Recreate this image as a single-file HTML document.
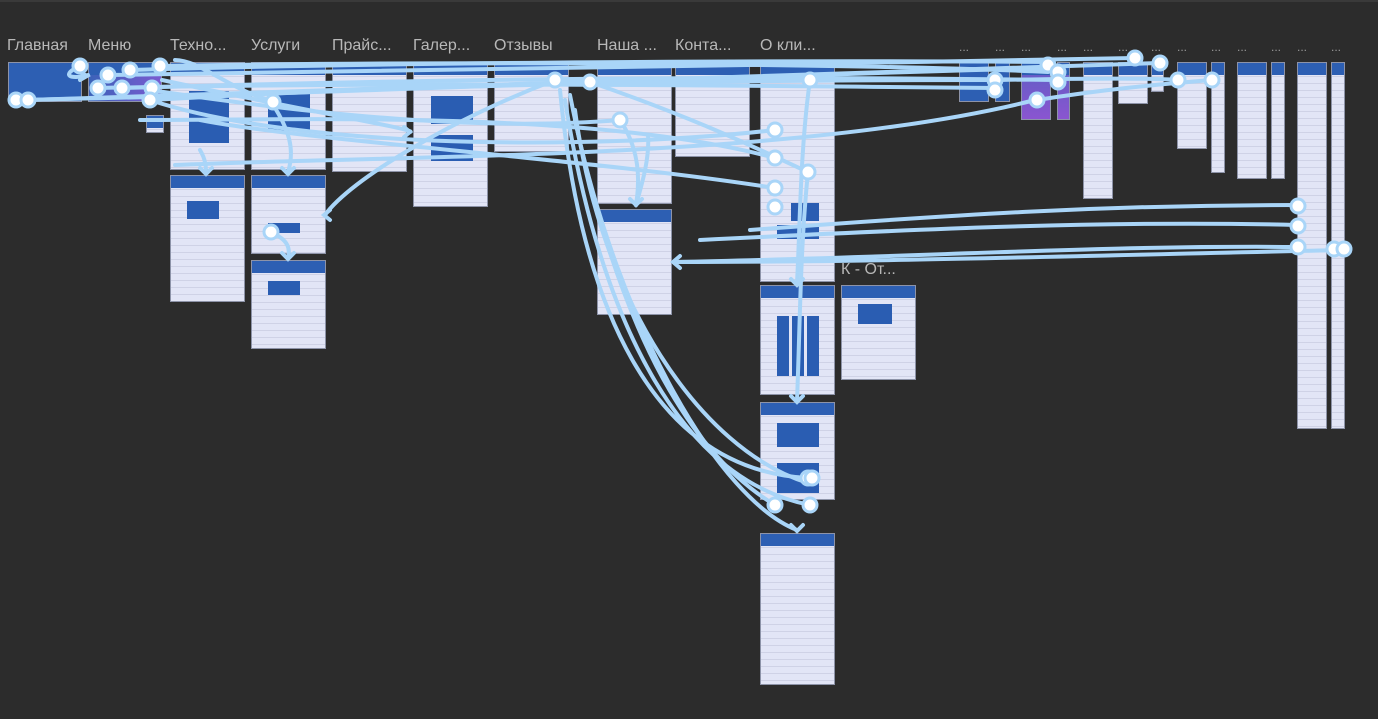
<!DOCTYPE html>
<html><head><meta charset="utf-8"><style>
html,body{margin:0;padding:0;background:#2c2c2c;}
body{width:1378px;height:719px;overflow:hidden;position:relative;font-family:"Liberation Sans","Noto Sans CJK SC",sans-serif;}
.top{position:absolute;left:0;top:0;width:1378px;height:2px;background:#3a3a3a}
.l{position:absolute;top:37px;font-size:16px;color:#b8b8b8;white-space:nowrap}
.d{font-size:12px;color:#999}
.f{position:absolute;background:#e2e5f6 repeating-linear-gradient(180deg,transparent 0 6px,rgba(120,125,160,.18) 6px 7px);border:1px solid #8d93a8;box-sizing:border-box;overflow:hidden}
.f:before{content:"";position:absolute;left:0;top:0;right:0;height:12px;background:#2d5fb3}
.g{position:absolute;background:#2a5db2}
</style></head><body>
<div class="top"></div>
<div class="l" style="left:7px">Главная</div>
<div class="l" style="left:88px">Меню</div>
<div class="l" style="left:170px">Техно...</div>
<div class="l" style="left:251px">Услуги</div>
<div class="l" style="left:332px">Прайс...</div>
<div class="l" style="left:413px">Галер...</div>
<div class="l" style="left:494px">Отзывы</div>
<div class="l" style="left:597px">Наша ...</div>
<div class="l" style="left:675px">Конта...</div>
<div class="l" style="left:760px">О кли...</div>
<div class="l" style="left:841px;top:261px">К - От...</div>
<div class="l d" style="left:959px;top:40px">...</div>
<div class="l d" style="left:995px;top:40px">...</div>
<div class="l d" style="left:1021px;top:40px">...</div>
<div class="l d" style="left:1057px;top:40px">...</div>
<div class="l d" style="left:1083px;top:40px">...</div>
<div class="l d" style="left:1118px;top:40px">...</div>
<div class="l d" style="left:1151px;top:40px">...</div>
<div class="l d" style="left:1177px;top:40px">...</div>
<div class="l d" style="left:1211px;top:40px">...</div>
<div class="l d" style="left:1237px;top:40px">...</div>
<div class="l d" style="left:1271px;top:40px">...</div>
<div class="l d" style="left:1297px;top:40px">...</div>
<div class="l d" style="left:1331px;top:40px">...</div>

<div class="f" style="left:8px;top:62px;width:74px;height:40px;background:#2d5fb3"></div>
<div class="f" style="left:88px;top:62px;width:74px;height:40px;background:linear-gradient(90deg,#3b62b8,#7a5bd0)"></div>
<div class="f" style="left:146px;top:115px;width:18px;height:18px"></div>
<div class="f" style="left:170px;top:62px;width:75px;height:108px"><div class="g" style="left:18px;top:28px;width:40px;height:52px"></div></div>
<div class="f" style="left:170px;top:175px;width:75px;height:127px"><div class="g" style="left:16px;top:25px;width:32px;height:18px"></div></div>
<div class="f" style="left:251px;top:62px;width:75px;height:108px"><div class="g" style="left:16px;top:28px;width:42px;height:40px"></div></div>
<div class="f" style="left:251px;top:175px;width:75px;height:79px"><div class="g" style="left:16px;top:47px;width:32px;height:10px"></div></div>
<div class="f" style="left:251px;top:260px;width:75px;height:89px"><div class="g" style="left:16px;top:20px;width:32px;height:14px"></div></div>
<div class="f" style="left:332px;top:62px;width:75px;height:110px"></div>
<div class="f" style="left:413px;top:62px;width:75px;height:145px"><div class="g" style="left:17px;top:33px;width:42px;height:28px"></div><div class="g" style="left:17px;top:72px;width:42px;height:26px"></div></div>
<div class="f" style="left:494px;top:62px;width:75px;height:90px"></div>
<div class="f" style="left:597px;top:62px;width:75px;height:142px"></div>
<div class="f" style="left:597px;top:209px;width:75px;height:106px"></div>
<div class="f" style="left:675px;top:62px;width:75px;height:95px"></div>
<div class="f" style="left:760px;top:62px;width:75px;height:220px"><div class="g" style="left:30px;top:140px;width:28px;height:18px"></div><div class="g" style="left:16px;top:162px;width:42px;height:14px"></div></div>
<div class="f" style="left:760px;top:285px;width:75px;height:110px"><div class="g" style="left:16px;top:30px;width:42px;height:60px;background:repeating-linear-gradient(90deg,#2a5db2 0 12px,#e2e5f6 12px 15px)"></div></div>
<div class="f" style="left:760px;top:402px;width:75px;height:98px"><div class="g" style="left:16px;top:20px;width:42px;height:24px"></div><div class="g" style="left:16px;top:60px;width:42px;height:30px"></div></div>
<div class="f" style="left:760px;top:533px;width:75px;height:152px"></div>
<div class="f" style="left:841px;top:285px;width:75px;height:95px"><div class="g" style="left:16px;top:18px;width:34px;height:20px"></div></div>
<div class="f" style="left:959px;top:62px;width:30px;height:40px;background:#2d5fb3"></div>
<div class="f" style="left:995px;top:62px;width:15px;height:40px;background:#2d5fb3"></div>
<div class="f" style="left:1021px;top:62px;width:30px;height:58px;background:linear-gradient(#5e5fc4,#8a55d0)"></div>
<div class="f" style="left:1057px;top:62px;width:13px;height:58px;background:linear-gradient(#5e5fc4,#8a55d0)"></div>
<div class="f" style="left:1083px;top:62px;width:30px;height:137px"></div>
<div class="f" style="left:1118px;top:62px;width:30px;height:42px"></div>
<div class="f" style="left:1151px;top:62px;width:13px;height:30px"></div>
<div class="f" style="left:1177px;top:62px;width:30px;height:87px"></div>
<div class="f" style="left:1211px;top:62px;width:14px;height:111px"></div>
<div class="f" style="left:1237px;top:62px;width:30px;height:117px"></div>
<div class="f" style="left:1271px;top:62px;width:14px;height:117px"></div>
<div class="f" style="left:1297px;top:62px;width:30px;height:367px"></div>
<div class="f" style="left:1331px;top:62px;width:14px;height:367px"></div>

<svg width="1378" height="719" style="position:absolute;left:0;top:0" fill="none" stroke="#a9d5f8" stroke-width="4" stroke-linecap="round">
<path d="M16 100 C300 95 600 80 1050 68"/>
<path d="M28 100 C300 90 700 75 1160 63"/>
<path d="M80 66 C60 75 70 80 88 75"/>
<path d="M108 75 C400 70 800 65 1135 58"/>
<path d="M130 70 C400 62 800 60 1050 62"/>
<path d="M160 66 C500 60 900 65 1048 72"/>
<path d="M122 88 C400 80 700 75 1057 80"/>
<path d="M98 88 C400 82 700 85 995 88"/>
<path d="M152 100 C400 85 700 80 995 80"/>
<path d="M150 90 C350 120 500 130 620 120"/>
<path d="M162 80 C300 110 420 130 410 132"/>
<path d="M150 100 C300 150 600 150 775 130"/>
<path d="M175 60 C200 60 230 90 270 100"/>
<path d="M140 120 C300 120 600 110 775 158"/>
<path d="M200 120 C300 140 600 160 775 188"/>
<path d="M270 100 C290 130 295 150 288 172"/>
<path d="M200 150 C206 160 206 168 206 172"/>
<path d="M175 165 C400 155 800 160 1035 100"/>
<path d="M555 80 C450 120 350 180 325 215"/>
<path d="M590 82 C700 120 760 150 808 172"/>
<path d="M620 120 C640 150 640 180 636 205"/>
<path d="M648 135 C650 160 640 190 636 205"/>
<path d="M810 80 C800 150 800 230 797 283"/>
<path d="M808 172 C800 250 800 330 797 400"/>
<path d="M560 90 C580 300 650 470 808 478"/>
<path d="M565 100 C600 320 680 480 810 505"/>
<path d="M570 95 C620 350 700 460 775 505"/>
<path d="M575 110 C600 300 700 450 808 483"/>
<path d="M575 120 C620 330 720 500 797 530"/>
<path d="M270 232 C290 240 290 250 288 258"/>
<path d="M675 262 C900 262 1100 255 1345 250"/>
<path d="M675 262 C900 258 1100 245 1297 247"/>
<path d="M700 240 C900 230 1100 220 1297 225"/>
<path d="M750 230 C950 215 1100 205 1297 205"/>
<path d="M1037 100 C1100 90 1150 85 1212 80"/>
<path d="M1000 80 C1100 78 1150 78 1180 80"/>
<path d="M200 168 L206 174 L212 168"/>
<path d="M282 168 L288 174 L294 168"/>
<path d="M282 253 L288 259 L294 253"/>
<path d="M630 199 L636 205 L642 199"/>
<path d="M330 210 L324 215 L330 220"/>
<path d="M680 256 L673 262 L680 268"/>
<path d="M791 279 L797 285 L803 279"/>
<path d="M791 396 L797 402 L803 396"/>
<path d="M791 525 L797 531 L803 525"/>
<path d="M404 127 L410 132 L404 137"/>
<path d="M80 72 L87 76 L80 80"/>
</svg>
<svg width="1378" height="719" style="position:absolute;left:0;top:0" fill="#fff" stroke="#a9d5f8" stroke-width="3">
<circle cx="16" cy="100" r="7"/><circle cx="28" cy="100" r="7"/>
<circle cx="80" cy="66" r="7"/><circle cx="108" cy="75" r="7"/><circle cx="130" cy="70" r="7"/>
<circle cx="160" cy="66" r="7"/><circle cx="98" cy="88" r="7"/><circle cx="122" cy="88" r="7"/>
<circle cx="152" cy="88" r="7"/><circle cx="150" cy="100" r="7"/><circle cx="273" cy="102" r="7"/>
<circle cx="271" cy="232" r="7"/><circle cx="555" cy="80" r="7"/><circle cx="590" cy="82" r="7"/>
<circle cx="620" cy="120" r="7"/><circle cx="810" cy="80" r="7"/><circle cx="775" cy="130" r="7"/>
<circle cx="775" cy="158" r="7"/><circle cx="775" cy="188" r="7"/><circle cx="775" cy="207" r="7"/>
<circle cx="808" cy="172" r="7"/><circle cx="808" cy="478" r="7"/><circle cx="812" cy="478" r="7"/>
<circle cx="775" cy="505" r="7"/><circle cx="810" cy="505" r="7"/>
<circle cx="995" cy="80" r="7"/><circle cx="995" cy="90" r="7"/><circle cx="1037" cy="100" r="7"/>
<circle cx="1048" cy="65" r="7"/><circle cx="1058" cy="72" r="7"/><circle cx="1058" cy="82" r="7"/>
<circle cx="1135" cy="58" r="7"/><circle cx="1160" cy="63" r="7"/><circle cx="1178" cy="80" r="7"/>
<circle cx="1212" cy="80" r="7"/><circle cx="1298" cy="206" r="7"/><circle cx="1298" cy="226" r="7"/>
<circle cx="1298" cy="247" r="7"/><circle cx="1334" cy="249" r="7"/><circle cx="1344" cy="249" r="7"/>
</svg>
</body></html>
